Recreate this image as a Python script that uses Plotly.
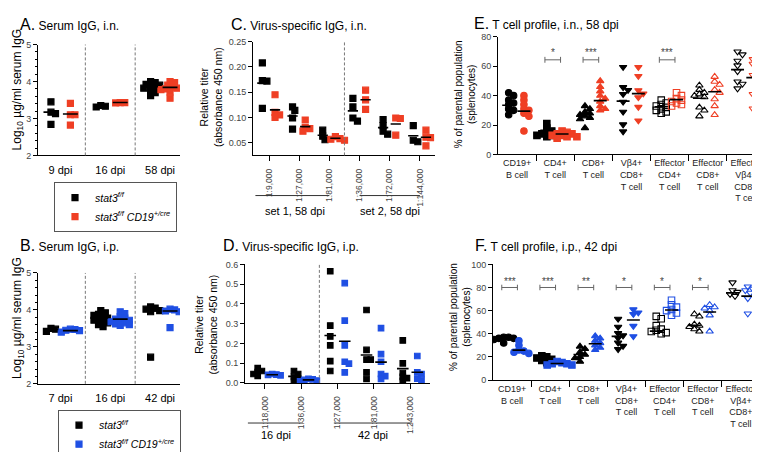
import plotly.graph_objects as go

# ---------------- DATA ----------------
A_cats = ["9 dpi", "16 dpi", "58 dpi"]
A_ctrl = [[3.45, 3.17, 3.13, 2.84], [3.31, 3.33, 3.35],
          [3.97, 4.00, 3.92, 3.90, 3.88, 3.85, 3.82, 3.75, 3.70, 3.62]]
A_ctrl_mean = [3.17, 3.33, 3.86]
A_ko = [[3.41, 3.10, 3.10, 2.82], [3.42, 3.43, 3.43],
        [4.00, 3.97, 3.90, 3.85, 3.82, 3.80, 3.78, 3.72, 3.55]]
A_ko_mean = [3.12, 3.43, 3.84]

B_cats = ["7 dpi", "16 dpi", "42 dpi"]
B_ctrl = [[3.50, 3.42, 3.48],
          [3.98, 3.92, 3.88, 3.85, 3.80, 3.78, 3.75, 3.72, 3.68, 3.65, 3.60, 3.55],
          [4.08, 4.05, 3.98, 3.95, 4.02, 2.72]]
B_ctrl_mean = [3.47, 3.78, 3.97]
B_ko = [[3.47, 3.45, 3.40, 3.44, 3.48],
        [3.95, 3.90, 3.82, 3.78, 3.75, 3.72, 3.70, 3.68, 3.65, 3.62, 3.60, 3.58],
        [4.02, 4.00, 3.97, 3.95, 3.52]]
B_ko_mean = [3.44, 3.75, 3.97]

C_cats = ["1:9,000", "1:27,000", "1:81,000", "1:36,000", "1:72,000", "1:144,000"]
C_ctrl = [[0.208, 0.173, 0.172, 0.118], [0.121, 0.114, 0.099, 0.077],
          [0.075, 0.063, 0.056], [0.138, 0.121, 0.099, 0.093],
          [0.096, 0.084, 0.073, 0.067], [0.084, 0.055, 0.052]]
C_ctrl_mean = [0.168, 0.103, 0.065, 0.113, 0.080, 0.064]
C_ko = [[0.145, 0.110, 0.105, 0.100], [0.095, 0.080, 0.073, 0.078],
        [0.062, 0.058, 0.055, 0.057], [0.154, 0.135, 0.116],
        [0.099, 0.098, 0.065], [0.075, 0.061, 0.060, 0.044]]
C_ko_mean = [0.115, 0.082, 0.059, 0.135, 0.087, 0.061]
C_groups = ["set 1, 58 dpi", "set 2, 58 dpi"]

D_cats = ["1:18,000", "1:36,000", "1:27,000", "1:81,000", "1:243,000"]
D_ctrl = [[0.075, 0.055, 0.045, 0.035, 0.060], [0.060, 0.045, 0.030, 0.020, 0.010],
          [0.565, 0.290, 0.235, 0.190, 0.110, 0.060],
          [0.369, 0.167, 0.118, 0.118, 0.053, 0.020],
          [0.215, 0.099, 0.050, 0.024, 0.010, 0.030]]
D_ctrl_mean = [0.054, 0.033, 0.240, 0.141, 0.072]
D_ko = [[0.045, 0.042, 0.040, 0.038], [0.020, 0.012, 0.008, 0.015, 0.018],
        [0.505, 0.315, 0.190, 0.107, 0.097, 0.053],
        [0.277, 0.146, 0.107, 0.045, 0.034, 0.020],
        [0.136, 0.053, 0.045, 0.021, 0.015]]
D_ko_mean = [0.041, 0.015, 0.211, 0.105, 0.054]
D_groups = ["16 dpi", "42 dpi"]

T_cats = ["CD19+<br>B cell", "CD4+<br>T cell", "CD8+<br>T cell", "Vβ4+<br>CD8+<br>T cell",
          "Effector<br>CD4+<br>T cell", "Effector<br>CD8+<br>T cell",
          "Effector<br>Vβ4+<br>CD8+<br>T cell"]

E_ctrl = [[42, 40, 37, 35, 34, 31, 30, 27], [21, 18, 16, 15, 14, 14, 13, 13, 12],
          [33, 31, 29, 28, 27, 26, 25, 24, 18],
          [59.4, 45.7, 43.8, 41, 35.8, 29, 20.4, 15.6],
          [37, 35, 34, 33, 32, 31, 30, 29, 28],
          [47, 44, 42, 41, 40, 39, 32, 30, 26],
          [70, 68, 63.7, 60.5, 56.6, 49.6, 48, 44.9]]
E_ctrl_mean = [33.5, 16.5, 26.9, 36.3, 32.5, 38.2, 57.7]
E_ko = [[40, 37, 34, 31, 30, 28, 26, 16], [16, 15, 14, 14, 13, 13, 12, 12, 11],
        [50, 46, 43, 40, 38, 36, 33, 31, 30],
        [59.4, 53.3, 43.6, 41.4, 38.8, 32.3, 23],
        [42, 40, 38, 37, 36, 35, 34, 33],
        [52.9, 49.6, 47.5, 44, 42, 37.7, 33, 26.9],
        [64.8, 63.3, 61.6, 54, 51.8, 41, 31.2]]
E_ko_mean = [29.5, 13.9, 36.6, 41.4, 37.3, 42.7, 52.3]
E_sig = ["", "*", "***", "", "***", "", ""]

F_ctrl = [[37, 37, 36, 36, 35, 32], [21, 20, 19, 18, 17, 15],
          [29, 27, 24, 22, 20, 19, 16],
          [52.8, 45.9, 40.4, 38.5, 36.3, 32.2, 29.4, 26.6],
          [55, 53, 47, 44, 43, 42, 41, 40],
          [57, 55, 48, 47, 46, 44, 42],
          [84.3, 77.5, 76.1, 74.2, 72.5]]
F_ctrl_mean = [36.3, 18.4, 22.0, 37.7, 42.3, 47.2, 75.3]
F_ko = [[34, 30, 26, 25, 24, 23], [16, 15, 14, 14, 13, 13],
        [38, 36, 34, 32, 30, 28, 26],
        [61, 58.3, 56.9, 46.7, 37.7],
        [69, 65, 63, 61, 60, 58, 56],
        [65, 63, 62, 60, 56, 42],
        [80.8, 78.9, 77.5, 75.3, 70.7, 57.4]]
F_ko_mean = [25.8, 14.3, 31.3, 51.9, 60.5, 58.8, 72.5]
F_sig = ["***", "***", "**", "*", "*", "*", ""]

# ---------------- STYLE ----------------
W, H = 760, 452
FONT = "Liberation Sans, Arial, sans-serif"
BLACK = "#000000"
RED = "#ef3f24"
BLUE = "#1f4fe3"
GRAY = "#666666"
T_SYMBOLS = ["circle", "square", "triangle-up", "triangle-down",
             "square-open", "triangle-up-open", "triangle-down-open"]

LEG1 = "<i>stat3</i><sup><i>f/f</i></sup>"
LEG2 = "<i>stat3</i><sup><i>f/f</i></sup><i> CD19</i><sup><i>+/cre</i></sup>"


def fx(p):
    return p / W


def fy(p):
    return 1 - p / H


P = {
    "A": dict(n="", px=(30, 172), py=(33, 149), xr=(-0.45, 2.4), yr=(2, 5)),
    "B": dict(n="2", px=(30, 172), py=(272, 388), xr=(-0.45, 2.4), yr=(2, 5)),
    "C": dict(n="3", px=(245, 427), py=(30, 149), xr=(-0.53, 5.5), yr=(0.025, 0.25)),
    "D": dict(n="4", px=(237, 422), py=(263, 387), xr=(-0.55, 4.55), yr=(0, 0.6)),
    "E": dict(n="5", px=(490, 757), py=(25, 148), xr=(-0.5, 6.5), yr=(0, 80)),
    "F": dict(n="6", px=(485, 752), py=(263, 384), xr=(-0.5, 6.5), yr=(0, 100)),
}
for k, p in P.items():
    p["pxx"] = (p["px"][1] - p["px"][0]) / (p["xr"][1] - p["xr"][0])
    p["pxy"] = (p["py"][1] - p["py"][0]) / (p["yr"][1] - p["yr"][0])


def swarm(vals, cx, pxx, pxy, d):
    """deterministic beeswarm: nudge overlapping points sideways (pixel space)"""
    placed = []
    out = [0.0] * len(vals)
    cands = [0.0]
    for j in range(1, 16):
        cands += [j * d * 0.38, -j * d * 0.38]
    for i in sorted(range(len(vals)), key=lambda k: -vals[k]):
        yp = vals[i] * pxy
        chosen = cands[-1]
        for xp in cands:
            if all((xp - a) ** 2 + (yp - b) ** 2 >= (0.7 * d) ** 2 for a, b in placed):
                chosen = xp
                break
        placed.append((chosen, yp))
        out[i] = cx + chosen / pxx
    return out


fig = go.Figure()


def add_groups(key, groups, color, offset, size, symbols=None, name=None,
               legend=None, width=1.2):
    p = P[key]
    xs, ys, syms = [], [], []
    for i, vals in enumerate(groups):
        xs += swarm(vals, i + offset, p["pxx"], p["pxy"], size)
        ys += vals
        if symbols:
            syms += [symbols[i]] * len(vals)
    marker = dict(color=color, size=size, symbol=syms if symbols else "square",
                  line=dict(color=color, width=width))
    fig.add_trace(go.Scatter(
        x=xs, y=ys, mode="markers", marker=marker,
        xaxis="x" + p["n"], yaxis="y" + p["n"],
        name=name or key, showlegend=legend is not None,
        legend=legend or "legend", hoverinfo="skip"))


def add_means(key, means, offset, hw):
    p = P[key]
    xs, ys = [], []
    for i, m in enumerate(means):
        xs += [i + offset - hw, i + offset + hw, None]
        ys += [m, m, None]
    fig.add_trace(go.Scatter(x=xs, y=ys, mode="lines",
                             line=dict(color=BLACK, width=1.6),
                             xaxis="x" + p["n"], yaxis="y" + p["n"],
                             showlegend=False, hoverinfo="skip"))


add_groups("A", A_ctrl, BLACK, -0.19, 6, name=LEG1, legend="legend")
add_groups("A", A_ko, RED, 0.2, 6, name=LEG2, legend="legend")
add_means("A", A_ctrl_mean, -0.19, 0.15)
add_means("A", A_ko_mean, 0.2, 0.15)

add_groups("B", B_ctrl, BLACK, -0.19, 6, name=LEG1, legend="legend2")
add_groups("B", B_ko, BLUE, 0.2, 6, name=LEG2, legend="legend2")
add_means("B", B_ctrl_mean, -0.19, 0.15)
add_means("B", B_ko_mean, 0.2, 0.15)

add_groups("C", C_ctrl, BLACK, -0.22, 6)
add_groups("C", C_ko, RED, 0.2, 6)
add_means("C", C_ctrl_mean, -0.22, 0.17)
add_means("C", C_ko_mean, 0.2, 0.17)

add_groups("D", D_ctrl, BLACK, -0.2, 5.5)
add_groups("D", D_ko, BLUE, 0.2, 5.5)
add_means("D", D_ctrl_mean, -0.2, 0.16)
add_means("D", D_ko_mean, 0.2, 0.16)

add_groups("E", E_ctrl, BLACK, -0.22, 6.5, symbols=T_SYMBOLS, width=1.1)
add_groups("E", E_ko, RED, 0.18, 6.5, symbols=T_SYMBOLS, width=1.1)
add_means("E", E_ctrl_mean, -0.22, 0.17)
add_means("E", E_ko_mean, 0.18, 0.17)

add_groups("F", F_ctrl, BLACK, -0.22, 6.5, symbols=T_SYMBOLS, width=1.1)
add_groups("F", F_ko, BLUE, 0.18, 6.5, symbols=T_SYMBOLS, width=1.1)
add_means("F", F_ctrl_mean, -0.22, 0.17)
add_means("F", F_ko_mean, 0.18, 0.17)

layout = dict(width=W, height=H, margin=dict(l=0, r=0, t=0, b=0),
              paper_bgcolor="white", plot_bgcolor="white",
              font=dict(family=FONT, size=11, color=BLACK))

ytick = dict(showline=True, linecolor=BLACK, linewidth=1, ticks="outside",
             ticklen=4, tickwidth=1, tickcolor=BLACK, showgrid=False, zeroline=False,
             tickfont=dict(size=9, color="#444"))
xbase = dict(showline=True, linecolor=BLACK, linewidth=1, showgrid=False,
             zeroline=False)

for k, p in P.items():
    xa = dict(xbase, domain=[fx(p["px"][0]), fx(p["px"][1])], range=list(p["xr"]),
              anchor="y" + p["n"])
    ya = dict(ytick, domain=[fy(p["py"][1]), fy(p["py"][0])], range=list(p["yr"]),
              anchor="x" + p["n"])
    if k in ("A", "B"):
        cats = A_cats if k == "A" else B_cats
        xa.update(tickvals=list(range(3)), ticktext=cats, ticks="outside", ticklen=4,
                  tickcolor="rgba(0,0,0,0)", tickfont=dict(size=11, color=BLACK))
        ya.update(tickvals=[2, 3, 4, 5],
                  minor=dict(ticks="outside", ticklen=2, dtick=0.2, tickcolor=BLACK))
    elif k in ("C", "D"):
        cats = C_cats if k == "C" else D_cats
        xa.update(tickvals=list(range(len(cats))), ticktext=cats, ticks="outside",
                  ticklen=5, tickcolor=BLACK, tickangle=-90, ticklabelstandoff=4,
                  tickfont=dict(size=8.5, color="#444"))
        if k == "C":
            ya.update(tickvals=[0.05, 0.10, 0.15, 0.20, 0.25], tickformat=".2f")
        else:
            ya.update(dtick=0.1, tickformat=".1f")
    else:
        xa.update(tickvals=list(range(7)), ticktext=T_cats, ticks="",
                  tickfont=dict(size=9, color="#222"),
                  minor=dict(tickvals=[0.5 + i for i in range(6)], ticks="outside",
                             ticklen=6, tickcolor=BLACK))
        ya.update(dtick=20)
    layout["xaxis" + p["n"]] = xa
    layout["yaxis" + p["n"]] = ya

leg = dict(xanchor="left", yanchor="top", bordercolor="#555", borderwidth=1,
           font=dict(size=10.5), tracegroupgap=0, bgcolor="white", itemwidth=30)
layout["legend"] = dict(leg, x=fx(46), y=fy(177))
layout["legend2"] = dict(leg, x=fx(50), y=fy(415))
fig.update_layout(**layout)

shapes = []
annotations = []

for k, xs in (("A", [0.5, 1.5]), ("B", [0.5, 1.5]), ("C", [2.5]), ("D", [1.5])):
    n = P[k]["n"]
    for xv in xs:
        shapes.append(dict(type="line", xref="x" + n, yref="y%s domain" % n,
                           x0=xv, x1=xv, y0=0, y1=1,
                           line=dict(color="#777", width=1, dash="3px,2px")))

for n, spans, labels, ly, ty in (
        ("3", [(-0.45, 2.0, 0.86), (3.0, 5.0, 4.0)], C_groups, 191, 207),
        ("4", [(-0.47, 1.05, 0.3), (1.9, 4.05, 2.97)], D_groups, 429, 442)):
    for (a, b, c), lab in zip(spans, labels):
        shapes.append(dict(type="line", xref="x" + n, yref="paper", x0=a, x1=b,
                           y0=fy(ly), y1=fy(ly), line=dict(color="#333", width=1)))
        annotations.append(dict(text=lab, xref="x" + n, yref="paper", x=c, y=fy(ty),
                                showarrow=False, font=dict(size=11, color=BLACK),
                                xanchor="center", yanchor="middle"))

for key, sig, yb, h, ys in (("E", E_sig, 64.4, 2.0, 69.5), ("F", F_sig, 80.0, 2.4, 85.0)):
    n = P[key]["n"]
    for i, s in enumerate(sig):
        if not s:
            continue
        a, b = i - 0.27, i + 0.14
        shapes.append(dict(type="path", xref="x" + n, yref="y" + n,
                           path="M %f,%f L %f,%f M %f,%f L %f,%f M %f,%f L %f,%f" % (
                               a, yb - h, a, yb + h, a, yb, b, yb, b, yb - h, b, yb + h),
                           line=dict(color=GRAY, width=1)))
        annotations.append(dict(text=s, xref="x" + n, yref="y" + n, x=(a + b) / 2,
                                y=ys, showarrow=False, font=dict(size=10, color="#444"),
                                xanchor="center", yanchor="middle"))

titles = [("A.", "Serum IgG, i.n.", 10, 12), ("B.", "Serum IgG, i.p.", 10, 243),
          ("C.", "Virus-specific IgG, i.n.", 221, 12),
          ("D.", "Virus-specific IgG, i.p.", 213, 243),
          ("E.", "T cell profile, i.n., 58 dpi", 464, 11),
          ("F.", "T cell profile, i.p., 42 dpi", 465, 243)]
for letter, t, x, y in titles:
    annotations.append(dict(text="<span style='font-size:16px'>%s</span> %s" % (letter, t),
                            xref="paper", yref="paper", x=fx(x), y=fy(y),
                            xanchor="left", yanchor="middle", showarrow=False,
                            font=dict(size=12, color=BLACK)))

ytitles = [("Log<sub>10</sub> µg/ml serum IgG", 10, 80, 12),
           ("Log<sub>10</sub> µg/ml serum IgG", 10, 319, 12),
           ("Relative titer<br>(absorbance 450 nm)", 203, 88, 10.5),
           ("Relative titer<br>(absorbance 450 nm)", 198, 326, 10.5),
           ("% of parental population<br>(splenocytes)", 457, 85, 10),
           ("% of parental population<br>(splenocytes)", 452, 318, 10)]
for t, x, y, s in ytitles:
    annotations.append(dict(text=t, xref="paper", yref="paper", x=fx(x), y=fy(y),
                            xanchor="center", yanchor="middle", textangle=-90,
                            showarrow=False, font=dict(size=s, color=BLACK)))

fig.update_layout(shapes=shapes, annotations=annotations)
fig.write_html("out.html")
